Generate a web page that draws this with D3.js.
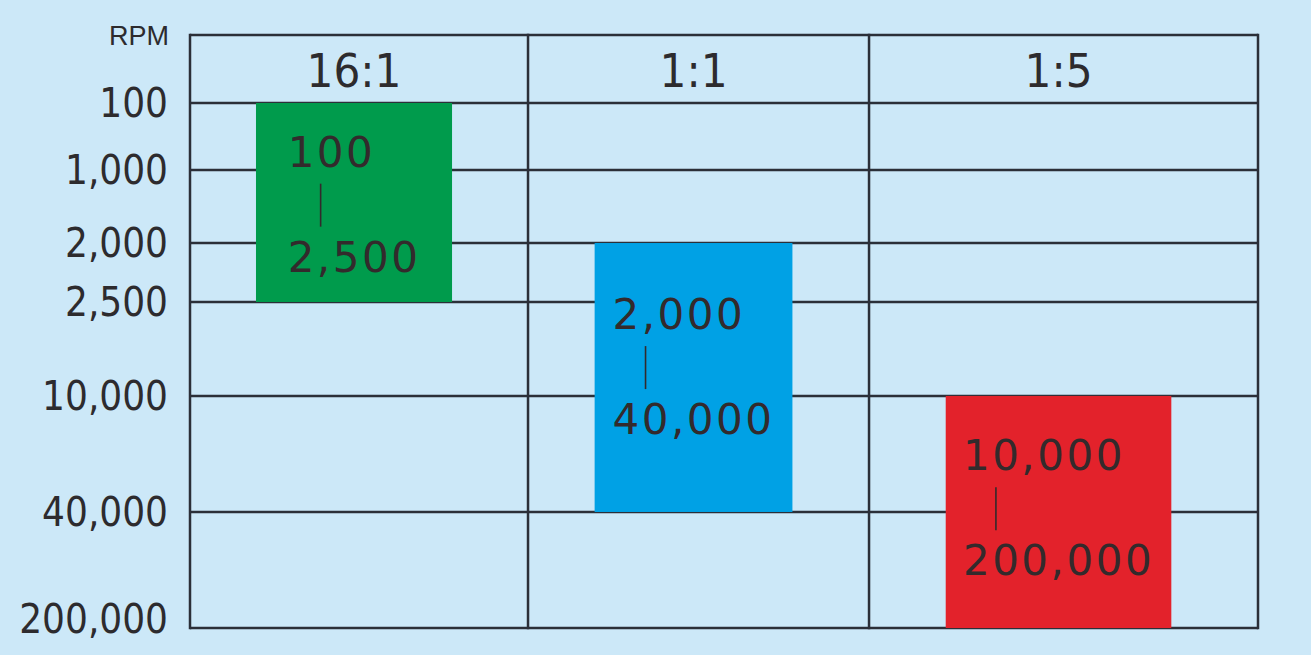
<!DOCTYPE html>
<html>
<head>
<meta charset="utf-8">
<script src="https://cdn.jsdelivr.net/npm/d3@7/dist/d3.min.js"></script>
<style>
  html, body { margin: 0; padding: 0; background: #cce8f8; }
  svg { display: block; }
</style>
</head>
<body>
<script>
// ---------- DATA ----------
const categories = ["16:1", "1:1", "1:5"];
const rangeLow  = [100, 2000, 10000];
const rangeHigh = [2500, 40000, 200000];
const barColors = ["#009b4c", "#00a1e5", "#e3222b"];
const tickValues = [100, 1000, 2000, 2500, 10000, 40000, 200000];
const axisTitle = "RPM";

// ---------- LAYOUT ----------
const W = 1311, H = 655;
const gridLeft = 190, gridRight = 1258, gridTop = 35, headerBottom = 103, gridBottom = 628;
const colFrac = [0, 0.3165, 0.6358, 1];          // column boundaries as fraction of grid width
const tickFrac = [0, 0.1276, 0.2667, 0.379, 0.558, 0.779, 1]; // uneven tick spacing of the axis
const barWidthFrac = 0.58, barShift = -5;
const lineColor = "#2b2f38", textColor = "#2d2b2e";

const svg = d3.select("body").append("svg").attr("width", W).attr("height", H);
svg.append("rect").attr("width", W).attr("height", H).attr("fill", "#cce8f8");

const y = d3.scaleLinear()
  .domain(tickValues)
  .range(tickFrac.map(f => headerBottom + f * (gridBottom - headerBottom)));

const colX = d3.scaleLinear().domain([0, 1]).range([gridLeft, gridRight]);
const colEdges = colFrac.map(f => colX(f));
const colCenter = i => (colEdges[i] + colEdges[i + 1]) / 2 + barShift;
const colWidth = i => colEdges[i + 1] - colEdges[i];

// horizontal grid lines
svg.append("g").selectAll("line").data(tickValues).join("line")
  .attr("x1", gridLeft).attr("x2", gridRight)
  .attr("y1", d => y(d)).attr("y2", d => y(d))
  .attr("stroke", lineColor).attr("stroke-width", 2.5);
// top line
svg.append("line").attr("x1", gridLeft).attr("x2", gridRight)
  .attr("y1", gridTop).attr("y2", gridTop)
  .attr("stroke", lineColor).attr("stroke-width", 2.5);
// vertical lines
svg.append("g").selectAll("line").data(colEdges).join("line")
  .attr("x1", d => d).attr("x2", d => d)
  .attr("y1", gridTop - 1.25).attr("y2", gridBottom + 1.25)
  .attr("stroke", lineColor).attr("stroke-width", 2.5);

// bars
const bars = categories.map((c, i) => ({
  c, i, lo: rangeLow[i], hi: rangeHigh[i], color: barColors[i],
  cx: colCenter(i), w: colWidth(i) * barWidthFrac
}));
svg.append("g").selectAll("rect").data(bars).join("rect")
  .attr("x", d => d.cx - d.w / 2).attr("width", d => d.w)
  .attr("y", d => y(d.lo)).attr("height", d => y(d.hi) - y(d.lo))
  .attr("fill", d => d.color);

// header labels
svg.append("g").selectAll("text").data(bars).join("text")
  .attr("x", d => d.cx).attr("y", 87)
  .attr("text-anchor", "middle")
  .attr("font-family", "DejaVu Sans Condensed, DejaVu Sans")
  .attr("font-size", 47).attr("fill", textColor)
  .text(d => d.c);

// axis labels
const fmt = d3.format(",");
svg.append("g").selectAll("text").data(tickValues).join("text")
  .attr("x", 168)
  .attr("y", d => Math.min(y(d), gridBottom - 9))
  .attr("dy", "0.36em")
  .attr("text-anchor", "end")
  .attr("font-family", "DejaVu Sans Condensed, DejaVu Sans")
  .attr("font-size", 40).attr("fill", textColor)
  .text(d => fmt(d));

svg.append("text").attr("x", 169).attr("y", 45)
  .attr("text-anchor", "end")
  .attr("font-family", "Liberation Sans, Arial")
  .attr("font-size", 27).attr("fill", textColor)
  .text(axisTitle);

// bar range labels
const lbl = svg.append("g").selectAll("g").data(bars).join("g");
lbl.each(function(d) {
  const g = d3.select(this);
  const h = y(d.hi) - y(d.lo);
  const top = y(d.lo) + 0.32 * h;
  const t1 = g.append("text").attr("y", top).text(fmt(d.lo));
  const t2 = g.append("text").attr("y", top + 105).text(fmt(d.hi));
  g.selectAll("text")
    .attr("font-family", "DejaVu Sans").attr("font-size", 42)
    .attr("letter-spacing", 2.5).attr("fill", "#332a2c");
  const wMax = Math.max(t1.node().getComputedTextLength(), t2.node().getComputedTextLength());
  const left = d.cx - wMax / 2;
  g.selectAll("text").attr("x", left);
  g.append("line")
    .attr("x1", left + 33).attr("x2", left + 33)
    .attr("y1", top + 17).attr("y2", top + 60)
    .attr("stroke", "#332a2c").attr("stroke-width", 1.6);
});
</script>
</body>
</html>
